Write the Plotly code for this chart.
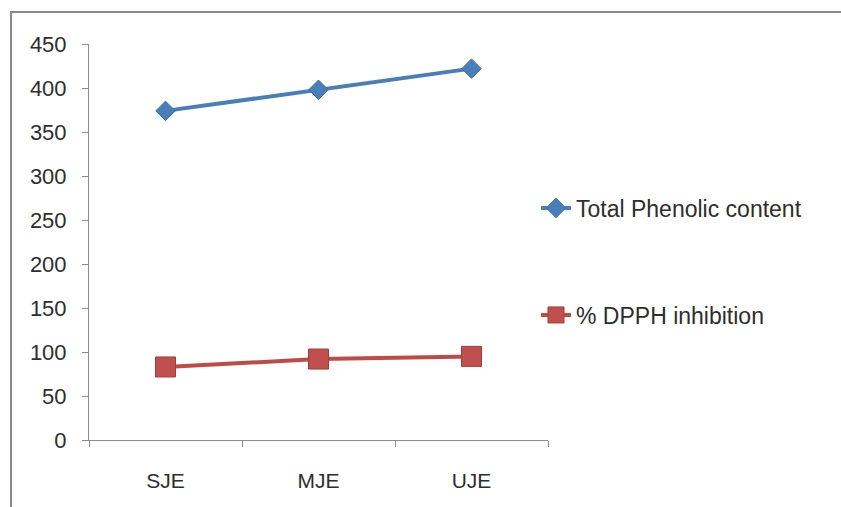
import plotly.graph_objects as go

categories = ["SJE", "MJE", "UJE"]
total_phenolic = [374, 398, 422]
dpph_inhibition = [83, 92, 95]
y_ticks = [0, 50, 100, 150, 200, 250, 300, 350, 400, 450]

W, H = 841, 507
L, R, T, B = 89, 293, 44, 67
pw, ph = W - L - R, H - T - B

FONT = "Liberation Sans"
TXT = "#2e2e2e"
AX = "#8c8c8c"

fig = go.Figure()
fig.add_trace(go.Scatter(
    x=categories, y=total_phenolic, name="Total Phenolic content",
    mode="lines+markers",
    line=dict(color="#4A7EBB", width=4),
    marker=dict(symbol="diamond", size=15, color="#4A7EBB",
                line=dict(color="#3D6DA8", width=1)),
    legend="legend", showlegend=True,
))
fig.add_trace(go.Scatter(
    x=categories, y=dpph_inhibition, name="% DPPH inhibition",
    mode="lines+markers",
    line=dict(color="#BE4B48", width=4),
    marker=dict(symbol="square", size=20, color="#C0504D",
                line=dict(color="#A33B38", width=1)),
    legend="legend2", showlegend=True,
))

def px_x(px):
    return (px - L) / pw

def px_y(py):
    return (H - B - py) / ph

legend_common = dict(
    font=dict(family=FONT, size=23, color=TXT),
    bgcolor="rgba(0,0,0,0)", borderwidth=0,
    xanchor="left", yanchor="middle", itemwidth=30,
)

fig.update_layout(
    width=W, height=H,
    showlegend=True,
    margin=dict(l=L, r=R, t=T, b=B),
    paper_bgcolor="white", plot_bgcolor="white",
    font=dict(family=FONT, size=21, color=TXT),
    legend=dict(x=px_x(536), y=px_y(208), **legend_common),
    legend2=dict(x=px_x(536), y=px_y(315), **legend_common),
    xaxis=dict(
        type="category", range=[-0.5, 2.5],
        tickson="boundaries", ticks="outside", ticklen=6, tickcolor=AX,
        tickwidth=1, showline=True, linecolor=AX, linewidth=1,
        showgrid=False, zeroline=False, ticklabelstandoff=22,
        tickfont=dict(family=FONT, size=21, color=TXT),
    ),
    yaxis=dict(
        range=[0, 450], tickvals=y_ticks, ticks="outside", ticklen=6,
        tickcolor=AX, tickwidth=1, showline=True, linecolor=AX, linewidth=1,
        showgrid=False, zeroline=False, ticklabelstandoff=11,
        tickfont=dict(family=FONT, size=22, color=TXT),
    ),
    shapes=[dict(
        type="rect", xref="paper", yref="paper",
        x0=px_x(11), x1=px_x(850), y0=px_y(520), y1=px_y(12),
        line=dict(color="#8a8a8a", width=2), fillcolor="rgba(0,0,0,0)",
        layer="below",
    )],
)

fig.write_html(
    "out.html",
    config={"displayModeBar": False},
    post_script="document.body.style.margin='0';document.body.style.padding='0';",
)
